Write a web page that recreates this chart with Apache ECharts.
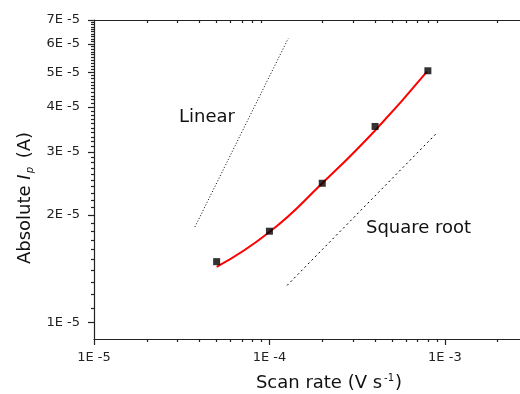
<!DOCTYPE html>
<html lang="en">
<head>
<meta charset="UTF-8">
<title>Absolute peak current vs scan rate</title>
<style>
    * { margin: 0; padding: 0; }
    body { background: #fff; }
    #chart { width: 520px; height: 394px; }
</style>
</head>
<body>
<div id="chart"></div>
<script src="https://cdn.jsdelivr.net/npm/echarts@6/dist/echarts.min.js"></script>
<script>
// measured points
var scanRate = [5e-5, 1e-4, 2e-4, 4e-4, 8e-4];
var peakCurrent = [1.48e-5, 1.80e-5, 2.45e-5, 3.53e-5, 5.05e-5];

// red fit curve
var fitX = [5.0e-5, 1.0e-4, 2.0e-4, 4.0e-4, 7.9e-4];
var fitY = [1.43e-5, 1.79e-5, 2.45e-5, 3.44e-5, 5.02e-5];

// guide lines (slope 1 and slope 0.5)
var linearX = [3.76e-5, 1.28e-4];
var linearY = [1.85e-5, 6.22e-5];
var sqrtX = [1.26e-4, 8.97e-4];
var sqrtY = [1.27e-5, 3.38e-5];

// tick labels
var xTickVals = [1e-5, 1e-4, 1e-3];
var xTickLabels = ['1E -5', '1E -4', '1E -3'];
var yTickVals = [1e-5, 2e-5, 3e-5, 4e-5, 5e-5, 6e-5, 7e-5];
var yTickLabels = ['1E -5', '2E -5', '3E -5', '4E -5', '5E -5', '6E -5', '7E -5'];

var xMin = 1e-5, xMax = 2.68e-3;
var yMin = 9e-6, yMax = 7e-5;

function pairs(xs, ys) {
    return xs.map(function (x, i) { return [x, ys[i]]; });
}

// minor ticks: 2..9 per decade on x, every 1E-6 on y
var xMinor = [];
[1e-5, 1e-4, 1e-3].forEach(function (p) {
    for (var k = 2; k <= 9; k++) {
        var v = k * p;
        if (v <= xMax) xMinor.push(v);
    }
});
var yMinor = [];
for (var m = 11; m < 70; m++) {
    if (m % 10 !== 0) yMinor.push(m * 1e-6);
}

var axisColor = '#222';
var font = 'DejaVu Sans';
var lg = Math.log10;

function lookup(vals, labels) {
    return function (v) {
        for (var i = 0; i < vals.length; i++) {
            if (Math.abs(v - vals[i]) / vals[i] < 1e-6) return labels[i];
        }
        return '';
    };
}

// tick-only axes live in log10 space so the tick marks land on the log scale
function tickAxis(min, max, pos, vals, len, inside, line) {
    return {
        type: 'value',
        min: lg(min), max: lg(max),
        position: pos,
        splitLine: { show: false },
        axisLine: { show: !!line, onZero: false, lineStyle: { color: axisColor, width: 1.2 } },
        axisTick: {
            show: true, inside: !!inside, length: len,
            customValues: vals.map(lg),
            lineStyle: { color: axisColor, width: 1.2 }
        },
        axisLabel: { show: false }
    };
}

var chart = echarts.init(document.getElementById('chart'));

var option = {
    animation: false,
    grid: { left: 94, top: 20, right: 0, bottom: 55 },
    xAxis: [
        {
            type: 'log', logBase: 10,
            min: xMin, max: xMax, position: 'bottom',
            splitLine: { show: false },
            axisLine: { show: true, onZero: false, lineStyle: { color: axisColor, width: 1.2 } },
            axisTick: { show: false },
            axisLabel: {
                customValues: xTickVals, margin: 12,
                formatter: lookup(xTickVals, xTickLabels),
                color: '#222', fontSize: 13, fontFamily: font
            }
        },
        tickAxis(xMin, xMax, 'bottom', xTickVals, 6),
        tickAxis(xMin, xMax, 'bottom', xMinor, 3),
        tickAxis(xMin, xMax, 'top', xMinor, 3, true, true)
    ],
    yAxis: [
        {
            type: 'log', logBase: 10,
            min: yMin, max: yMax, position: 'left',
            splitLine: { show: false },
            axisLine: { show: true, onZero: false, lineStyle: { color: axisColor, width: 1.2 } },
            axisTick: { show: false },
            axisLabel: {
                customValues: yTickVals, margin: 14,
                formatter: lookup(yTickVals, yTickLabels),
                color: '#222', fontSize: 13, fontFamily: font
            }
        },
        tickAxis(yMin, yMax, 'left', yTickVals, 6),
        tickAxis(yMin, yMax, 'left', yMinor, 3)
    ],
    series: [
        {
            type: 'line',
            data: pairs(linearX, linearY),
            showSymbol: false,
            lineStyle: { color: '#000', width: 1, type: [1, 2] },
            z: 1
        },
        {
            type: 'line',
            data: pairs(sqrtX, sqrtY),
            showSymbol: false,
            lineStyle: { color: '#000', width: 1, type: [2, 3] },
            z: 1
        },
        {
            type: 'line',
            data: pairs(fitX, fitY),
            smooth: true,
            showSymbol: false,
            lineStyle: { color: '#ff0000', width: 2 },
            z: 2
        },
        {
            type: 'scatter',
            data: pairs(scanRate, peakCurrent),
            symbol: 'rect',
            symbolSize: 7,
            itemStyle: { color: '#000' },
            z: 3
        }
    ],
    graphic: [
        {
            type: 'text', x: 179, y: 117,
            style: { text: 'Linear', fontSize: 18, fontFamily: font, fill: '#111', textVerticalAlign: 'middle' }
        },
        {
            type: 'text', x: 366, y: 228,
            style: { text: 'Square root', fontSize: 18, fontFamily: font, fill: '#111', textVerticalAlign: 'middle' }
        },
        {
            type: 'text', x: 329, y: 383,
            style: {
                text: '{a|Scan rate (V s}{sup|-1}{a|)}',
                textAlign: 'center', textVerticalAlign: 'middle',
                rich: {
                    a: { fontSize: 18, fontFamily: font, fill: '#111' },
                    sup: { fontSize: 10, fontFamily: font, fill: '#111', padding: [0, 1, 10, 2] }
                }
            }
        },
        {
            type: 'text', x: 25, y: 198, rotation: Math.PI / 2,
            style: {
                text: '{a|Absolute }{i|I}{sub|p}{a| (A)}',
                textAlign: 'center', textVerticalAlign: 'middle',
                rich: {
                    a: { fontSize: 18, fontFamily: font, fill: '#111' },
                    i: { fontSize: 18, fontFamily: font, fontStyle: 'italic', fill: '#111' },
                    sub: { fontSize: 10, fontFamily: font, fontStyle: 'italic', fill: '#111', padding: [10, 3, 0, 1] }
                }
            }
        }
    ]
};

chart.setOption(option);
</script>
</body>
</html>
